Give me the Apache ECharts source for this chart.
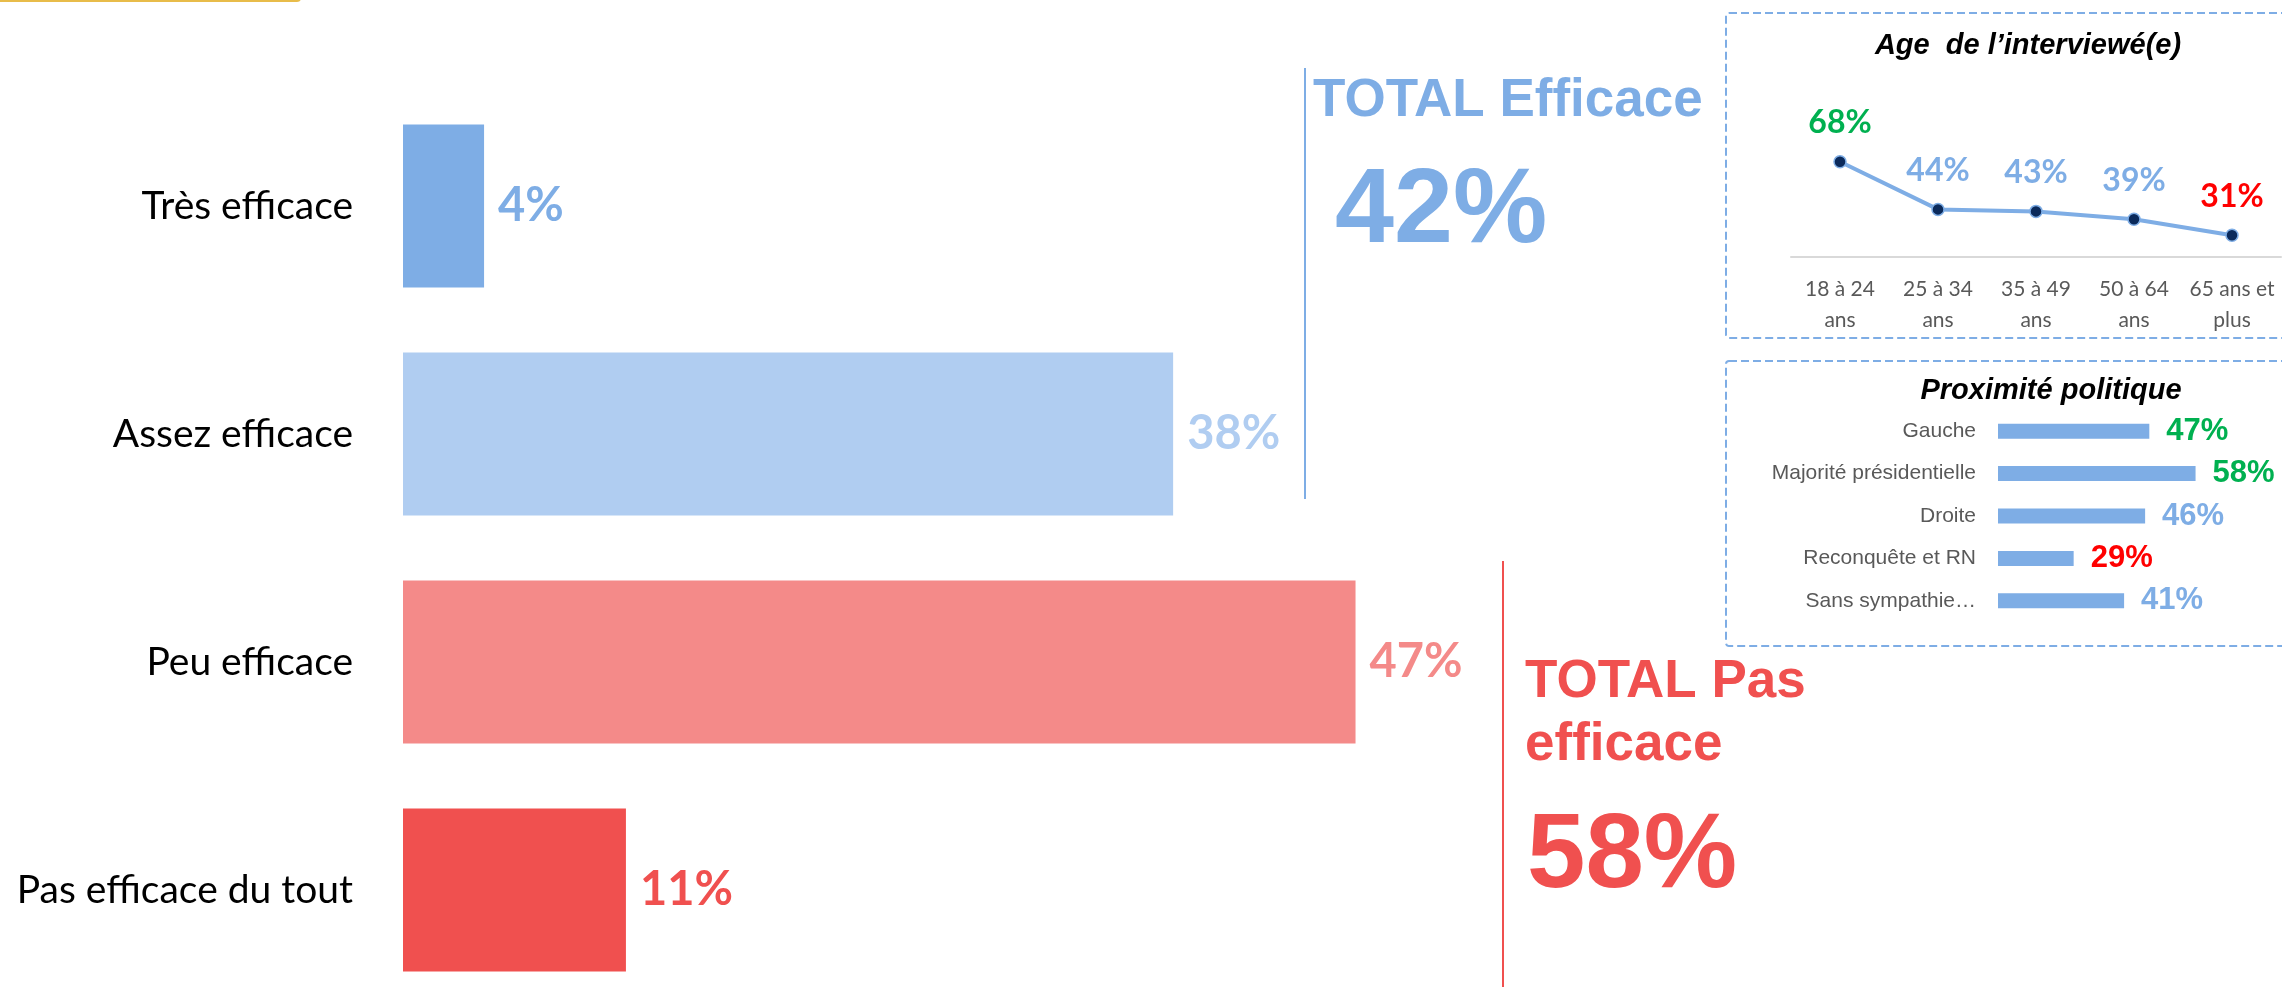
<!DOCTYPE html>
<html>
<head>
<meta charset="utf-8">
<script src="https://cdn.jsdelivr.net/npm/echarts@6/dist/echarts.min.js"></script>
<style>
  html, body { margin: 0; padding: 0; background: #fff; }
  #chart { width: 2282px; height: 987px; }
</style>
</head>
<body>
<div id="chart"></div>
<script>
const chartElement = document.getElementById('chart');
const myChart = echarts.init(chartElement);

// main question
const mainCategories = ['Très efficace', 'Assez efficace', 'Peu efficace', 'Pas efficace du tout'];
const mainValues = [4, 38, 47, 11];
const totalEfficace = 42;
const totalPasEfficace = 58;

// age breakdown (TOTAL Efficace)
const ageCategories = ['18 à 24\nans', '25 à 34\nans', '35 à 49\nans', '50 à 64\nans', '65 ans et\nplus'];
const ageValues = [68, 44, 43, 39, 31];

// political proximity (TOTAL Efficace)
const partyCategories = ['Gauche', 'Majorité présidentielle', 'Droite', 'Reconquête et RN', 'Sans sympathie…'];
const partyValues = [47, 58, 46, 29, 41];

const BLUE = '#7EADE5';
const LIGHT_BLUE = '#B0CDF1';
const PINK = '#F48A89';
const RED = '#F0504F';
const GREEN = '#00B050';
const BRIGHT_RED = '#FF0000';

const mainColors = [BLUE, LIGHT_BLUE, PINK, RED];
const ageLabelColors = [GREEN, BLUE, BLUE, BLUE, BRIGHT_RED];
const partyLabelColors = [GREEN, GREEN, BLUE, BRIGHT_RED, BLUE];

const CALIBRI_LIKE = 'Lato, "Open Sans", sans-serif';
const ARIAL_LIKE = '"Liberation Sans", Arial, sans-serif';

const bigText = (x, y, text, color, size) => ({
    type: 'text',
    x,
    y,
    style: {
        text,
        fill: color,
        font: `bold ${size}px ${ARIAL_LIKE}`,
        textAlign: 'left',
        textVerticalAlign: 'middle',
    },
});

const option = {
    animation: false,
    backgroundColor: '#fff',
    grid: [
        // main chart runs a bit past the bottom edge, as in the slide
        {left: 403, top: 92, width: 1216, height: 912, outerBoundsMode: 'none'},
        {left: 1791, top: 138, width: 490, height: 119, outerBoundsMode: 'none'},
        {left: 1998, top: 410, width: 248, height: 212, outerBoundsMode: 'none'},
    ],
    xAxis: [
        {gridIndex: 0, type: 'value', min: 0, max: 60, show: false},
        {
            gridIndex: 1,
            type: 'category',
            data: ageCategories,
            boundaryGap: true,
            axisLine: {lineStyle: {color: '#D9D9D9', width: 2}},
            axisTick: {show: false},
            axisLabel: {
                color: '#595959',
                fontFamily: CALIBRI_LIKE,
                fontSize: 21,
                lineHeight: 31,
                margin: 17,
                interval: 0,
            },
        },
        {gridIndex: 2, type: 'value', min: 11, max: 70, show: false},
    ],
    yAxis: [
        {
            gridIndex: 0,
            type: 'category',
            inverse: true,
            data: mainCategories,
            axisLine: {show: false},
            axisTick: {show: false},
            axisLabel: {
                color: '#000',
                fontFamily: CALIBRI_LIKE,
                fontSize: 39,
                margin: 50,
            },
        },
        {gridIndex: 1, type: 'value', min: 20, max: 80, show: false},
        {
            gridIndex: 2,
            type: 'category',
            inverse: true,
            data: partyCategories,
            axisLine: {show: false},
            axisTick: {show: false},
            axisLabel: {
                color: '#595959',
                fontFamily: ARIAL_LIKE,
                fontSize: 21,
                margin: 22,
            },
        },
    ],
    series: [
        {
            type: 'bar',
            xAxisIndex: 0,
            yAxisIndex: 0,
            barWidth: '71.5%',
            data: mainValues.map((v, i) => ({
                value: v,
                itemStyle: {color: mainColors[i]},
                label: {color: mainColors[i]},
            })),
            label: {
                show: true,
                position: 'right',
                distance: 14,
                formatter: '{c}%',
                fontFamily: CALIBRI_LIKE,
                fontWeight: 'bold',
                fontSize: 47,
            },
        },
        {
            type: 'line',
            xAxisIndex: 1,
            yAxisIndex: 1,
            data: ageValues.map((v, i) => ({
                value: v,
                label: {color: ageLabelColors[i]},
            })),
            lineStyle: {color: BLUE, width: 4},
            symbol: 'circle',
            symbolSize: 12,
            itemStyle: {color: '#0B2A5B', borderColor: BLUE, borderWidth: 1.5},
            label: {
                show: true,
                position: 'top',
                distance: 16,
                formatter: '{c}%',
                fontFamily: CALIBRI_LIKE,
                fontWeight: 'bold',
                fontSize: 32,
            },
        },
        {
            type: 'bar',
            xAxisIndex: 2,
            yAxisIndex: 2,
            barWidth: 15,
            itemStyle: {color: BLUE},
            data: partyValues.map((v, i) => ({
                value: v,
                label: {color: partyLabelColors[i]},
            })),
            label: {
                show: true,
                position: 'right',
                distance: 17,
                formatter: '{c}%',
                fontFamily: ARIAL_LIKE,
                fontWeight: 'bold',
                fontSize: 31,
            },
        },
    ],
    graphic: [
        // gold edge of the header shape, top left
        {type: 'rect', shape: {x: -10, y: -20, width: 311, height: 22, r: 4}, style: {fill: '#E8BC4A'}},
        // separators
        {type: 'line', shape: {x1: 1305, y1: 68, x2: 1305, y2: 499}, style: {stroke: BLUE, lineWidth: 2}},
        {type: 'line', shape: {x1: 1503, y1: 561, x2: 1503, y2: 990}, style: {stroke: RED, lineWidth: 2}},
        // totals
        bigText(1313, 101, 'TOTAL Efficace', BLUE, 53),
        bigText(1335, 213, totalEfficace + '%', BLUE, 106),
        bigText(1525, 682, 'TOTAL Pas', RED, 53),
        bigText(1525, 745, 'efficace', RED, 53),
        bigText(1527, 858, totalPasEfficace + '%', RED, 105),
        // inset frames
        {
            type: 'rect',
            shape: {x: 1726, y: 13, width: 620, height: 325, r: 3},
            style: {fill: null, stroke: BLUE, lineWidth: 2, lineDash: [8, 4]},
        },
        {
            type: 'rect',
            shape: {x: 1726, y: 361, width: 620, height: 285, r: 3},
            style: {fill: null, stroke: BLUE, lineWidth: 2, lineDash: [8, 4]},
        },
        {
            type: 'text',
            x: 2028,
            y: 46,
            style: {
                text: 'Age  de l’interviewé(e)',
                fill: '#000',
                font: `italic bold 29px ${ARIAL_LIKE}`,
                textAlign: 'center',
                textVerticalAlign: 'middle',
            },
        },
        {
            type: 'text',
            x: 2051,
            y: 391,
            style: {
                text: 'Proximité politique',
                fill: '#000',
                font: `italic bold 29px ${ARIAL_LIKE}`,
                textAlign: 'center',
                textVerticalAlign: 'middle',
            },
        },
    ],
};

myChart.setOption(option);
</script>
</body>
</html>
